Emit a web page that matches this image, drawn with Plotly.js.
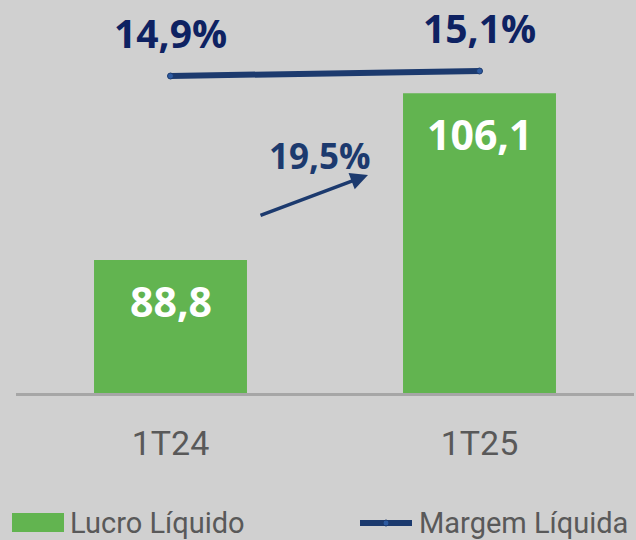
<!DOCTYPE html>
<html>
<head>
<meta charset="utf-8">
<script src="https://cdn.plot.ly/plotly-3.0.1.min.js"></script>
<style>html,body{margin:0;padding:0;background:#d0d0d0;}#chart{width:636px;height:540px;}</style>
</head>
<body>
<div id="chart"></div>
<script>
// ---- data ----
const categories = ['1T24', '1T25'];
const lucroLiquido = [88.8, 106.1];
const margemLiquida = [14.9, 15.1];
const seriesNames = ['Lucro Líquido', 'Margem Líquida'];
const growthLabel = '19,5%';

// ---- styling / layout helpers ----
const W = 636, H = 540;
const M = {l: 16, r: 2, t: 10, b: 147};
const plotW = W - M.l - M.r, plotH = H - M.t - M.b;
const px = x => (x - M.l) / plotW;
const py = y => (H - M.b - y) / plotH;
const fmt = (v, d) => v.toFixed(d).replace('.', ',');

const GREEN = '#62b450', NAVY = '#1c3a6e', DARKNAVY = '#0e2262', GRAY = '#595959';
const BOLD = 'Open Sans';

const traces = [
  {
    type: 'bar', name: seriesNames[0], x: categories, y: lucroLiquido,
    marker: {color: GREEN}, hoverinfo: 'skip', showlegend: false
  },
  {
    type: 'scatter', mode: 'lines+markers', name: seriesNames[1], x: categories, y: margemLiquida,
    yaxis: 'y2', line: {color: NAVY, width: 6},
    marker: {size: 6, color: '#2d5aa0', line: {color: NAVY, width: 1}},
    hoverinfo: 'skip', showlegend: false
  }
];

const annotations = [];
categories.forEach((c, i) => {
  annotations.push({
    x: c, y: lucroLiquido[i], xref: 'x', yref: 'y', yanchor: 'top', yshift: -11,
    text: '<b>' + fmt(lucroLiquido[i], 1) + '</b>', showarrow: false,
    font: {family: BOLD, size: 41, color: '#ffffff'}
  });
  annotations.push({
    x: c, y: margemLiquida[i], xref: 'x', yref: 'y2', yanchor: 'middle', yshift: 44,
    text: '<b>' + fmt(margemLiquida[i], 1) + '%</b>', showarrow: false,
    font: {family: BOLD, size: 39, color: DARKNAVY}
  });
});
// growth arrow
annotations.push({
  x: px(368), y: py(175), xref: 'paper', yref: 'paper', text: '',
  showarrow: true, ax: -109, ay: 41, arrowhead: 2, arrowsize: 1, arrowwidth: 3.5,
  arrowcolor: NAVY, standoff: 0, startstandoff: 0
});
annotations.push({
  x: px(320), y: py(155), xref: 'paper', yref: 'paper', text: '<b>' + growthLabel + '</b>', showarrow: false,
  xanchor: 'center', yanchor: 'middle',
  font: {family: BOLD, size: 35, color: NAVY}
});
// legend texts
annotations.push({
  x: px(68), y: py(523), xref: 'paper', yref: 'paper', text: seriesNames[0], showarrow: false,
  xanchor: 'left', yanchor: 'middle', font: {family: 'Roboto', size: 29, color: GRAY}
});
annotations.push({
  x: px(417), y: py(523), xref: 'paper', yref: 'paper', text: seriesNames[1], showarrow: false,
  xanchor: 'left', yanchor: 'middle', font: {family: 'Roboto', size: 29, color: GRAY}
});

const shapes = [
  {type: 'rect', xref: 'paper', yref: 'paper', x0: px(12), x1: px(64), y0: py(532), y1: py(513),
   fillcolor: GREEN, line: {width: 0}},
  {type: 'line', xref: 'paper', yref: 'paper', x0: px(360), x1: px(412), y0: py(523), y1: py(523),
   line: {color: NAVY, width: 6}},
  {type: 'circle', xref: 'paper', yref: 'paper', x0: px(383), x1: px(389), y0: py(526), y1: py(520),
   fillcolor: '#2d5aa0', line: {color: NAVY, width: 1}}
];

const layout = {
  width: W, height: H, margin: M,
  paper_bgcolor: '#d0d0d0', plot_bgcolor: '#d0d0d0',
  showlegend: false, bargap: 0.505,
  font: {family: 'Roboto', color: GRAY},
  xaxis: {
    type: 'category', range: [-0.5, 1.5], showgrid: false, zeroline: false,
    showline: true, linecolor: '#a6a6a6', linewidth: 3, ticks: '',
    tickfont: {family: 'Roboto', size: 34, color: GRAY}, ticklabelstandoff: 18, fixedrange: true
  },
  yaxis: {range: [75, 114.73], visible: false, fixedrange: true},
  yaxis2: {range: [2.22, 17.54], overlaying: 'y', side: 'right', visible: false, fixedrange: true},
  annotations: annotations, shapes: shapes
};

Plotly.newPlot('chart', traces, layout, {displayModeBar: false, staticPlot: true});
</script>
</body>
</html>
